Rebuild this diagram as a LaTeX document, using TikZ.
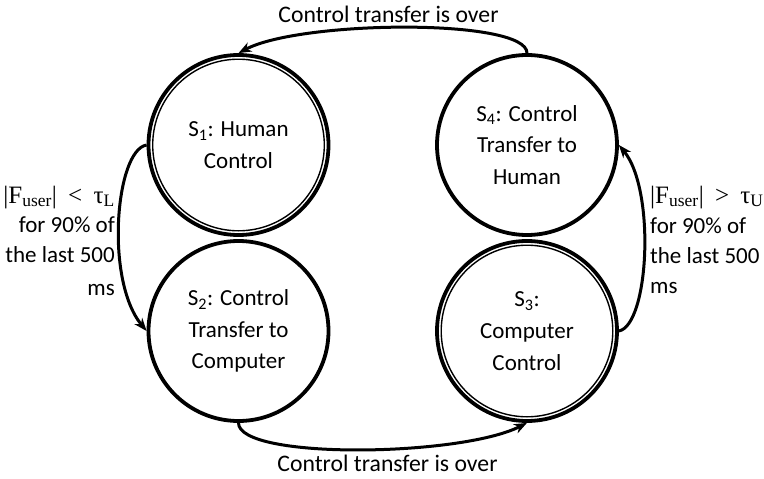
\documentclass[tikz,border=0pt]{standalone}
\usepackage{fontspec}
\setmainfont{Carlito}
\newfontfamily\mathserif{Liberation Serif}
\usetikzlibrary{arrows.meta}
\newcommand\mainfs{\fontsize{23}{31.7}\selectfont}
\newcommand\edgefs{\fontsize{23.7}{31.7}\selectfont}
\newcommand\mathfs{\fontsize{25}{30}\selectfont\mathserif}
\begin{document}
\begin{tikzpicture}[x=1pt,y=-1pt,
  state/.style={circle,draw,line width=3.8pt,minimum size=180pt,inner sep=0pt,align=center,font=\mainfs},
  innerring/.style={draw,line width=1.4pt},
  trans/.style={line width=3pt,-{Stealth[length=13pt,width=10pt]}},
  lbl/.style={inner sep=0pt,font=\mainfs},
  elbl/.style={inner sep=0pt,font=\edgefs},
  mlbl/.style={inner sep=0pt,font=\mathfs}]
\useasboundingbox (0,0) rectangle (764,479);
\node[state] (s1) at (238.5,145) {S\textsubscript{1}: Human\\Control};
\node[state] (s2) at (238.5,331) {S\textsubscript{2}: Control\\Transfer to\\Computer};
\node[state] (s3) at (527,331) {S\textsubscript{3}:\\Computer\\Control};
\node[state] (s4) at (527,145) {S\textsubscript{4}: Control\\Transfer to\\Human};
\draw[innerring] (s1.center) circle (85.8);
\draw[innerring] (s3.center) circle (85.8);
% transitions
\draw[trans] (s4.north) .. controls +(0,-35) and +(62,-33) .. (s1.north);
\draw[trans] (s2.south) .. controls +(0,37) and +(-67,34) .. (s3.south);
\draw[trans] (s1.west) .. controls +(-31,5) and +(-42,-51) .. (s2.west);
\draw[trans] (s3.east) .. controls +(30,-6) and +(37,45) .. (s4.east);
% labels
\node[elbl,anchor=base] (ttop) at (388.5,22) {Control transfer is over};
\node[elbl,anchor=base] (tbot) at (387.5,471) {Control transfer is over};
\node[mlbl,anchor=base east] (l1) at (115,203) {|F\textsubscript{user}|\hspace{0.45em}<\hspace{0.45em}τ\textsubscript{L}};
\node[lbl,anchor=base east] (l2) at (115,232) {for 90\% of};
\node[lbl,anchor=base east] (l3) at (115,262) {the last 500};
\node[lbl,anchor=base east] (l4) at (115,295) {ms};
\node[mlbl,anchor=base west] (r1) at (650,203) {|F\textsubscript{user}|\hspace{0.45em}>\hspace{0.45em}τ\textsubscript{U}};
\node[lbl,anchor=base west] (r2) at (650,233) {for 90\% of};
\node[lbl,anchor=base west] (r3) at (650,263) {the last 500};
\node[lbl,anchor=base west] (r4) at (650,293) {ms};
\end{tikzpicture}
\end{document}
